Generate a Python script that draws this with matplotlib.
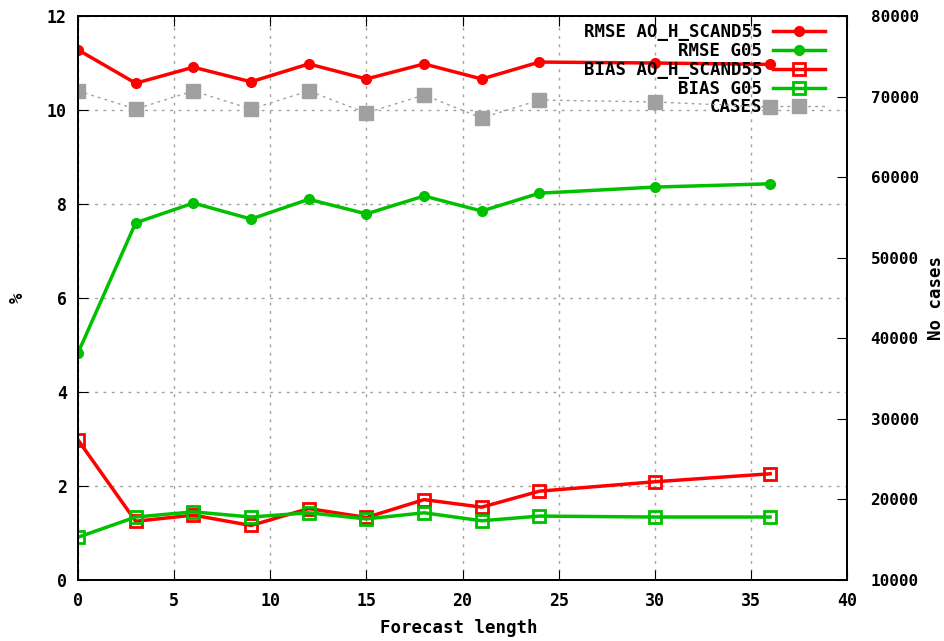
import matplotlib
matplotlib.use('Agg')
import matplotlib.pyplot as plt

plt.rcParams['font.family'] = 'DejaVu Sans Mono'
plt.rcParams['font.weight'] = 'bold'

lead = [0, 3, 6, 9, 12, 15, 18, 21, 24, 30, 36]
rmse_ao = [11.28, 10.57, 10.91, 10.6, 10.98, 10.66, 10.98, 10.66, 11.02, 11.0, 10.97]
rmse_g05 = [4.83, 7.6, 8.02, 7.68, 8.1, 7.79, 8.17, 7.85, 8.23, 8.36, 8.43]
bias_ao = [2.98, 1.25, 1.38, 1.16, 1.52, 1.33, 1.71, 1.55, 1.89, 2.09, 2.26]
bias_g05 = [0.91, 1.34, 1.45, 1.34, 1.43, 1.3, 1.43, 1.26, 1.36, 1.34, 1.34]
cases = [70700, 68450, 70700, 68450, 70700, 67960, 70200, 67340, 69570, 69330, 68700]

red = '#ff0000'
green = '#00c000'
grey = '#a0a0a0'

W, H = 944, 641
fig = plt.figure(figsize=(W / 100, H / 100), dpi=100)
ax = fig.add_axes([78 / W, 1 - 580 / H, (847 - 78) / W, (580 - 16) / H])
ax2 = ax.twinx()

l1, = ax.plot(lead, rmse_ao, color=red, lw=2.5, marker='o', ms=7, mec=red, mfc=red,
              label='RMSE AO_H_SCAND55')
l2, = ax.plot(lead, rmse_g05, color=green, lw=2.5, marker='o', ms=7, mec=green, mfc=green,
              label='RMSE G05')
l3, = ax.plot(lead, bias_ao, color=red, lw=2.5, marker='s', ms=8, mec=red, mfc='none',
              mew=2, label='BIAS AO_H_SCAND55')
l4, = ax.plot(lead, bias_g05, color=green, lw=2.5, marker='s', ms=8, mec=green, mfc='none',
              mew=2, label='BIAS G05')
l5, = ax2.plot(lead, cases, color=grey, lw=1.0, ls=(0, (2, 3)), marker='s', ms=9.5,
               mec=grey, mfc=grey, label='CASES')

ax.set_xlim(0, 40)
ax.set_ylim(0, 12)
ax2.set_ylim(10000, 80000)
ax.set_xticks(range(0, 41, 5))
ax.set_yticks(range(0, 13, 2))
ax2.set_yticks(range(10000, 80001, 10000))

ax.grid(True, color='#a0a0a0', ls=(0, (2, 4)), lw=1)
ax.set_axisbelow(True)
ax.tick_params(direction='in', top=True, length=7, labelsize=12, pad=8)
ax.tick_params(axis='x', pad=9)
ax2.tick_params(direction='in', length=7, labelsize=11.5, pad=17)
for a in (ax, ax2):
    for s in a.spines.values():
        s.set_linewidth(1.3)

fig.text(459 / W, 1 - 628 / H, 'Forecast length', fontsize=12.5, ha='center', va='center')
fig.text(18 / W, 1 - 298 / H, '%', fontsize=12.5, rotation=90, ha='center', va='center')
fig.text(936 / W, 1 - 298 / H, 'No cases', fontsize=12.5, rotation=90, ha='center', va='center')

leg = ax.legend(handles=[l1, l2, l3, l4, l5], loc='upper right', frameon=False,
                markerfirst=False, fontsize=12.5, handlelength=3.0, labelspacing=0.05,
                bbox_to_anchor=(825 / W, 1 - 23 / H), bbox_transform=fig.transFigure,
                borderaxespad=0, borderpad=0, handletextpad=0.6)
leg.set_zorder(5)

fig.savefig('out.png', dpi=100)
